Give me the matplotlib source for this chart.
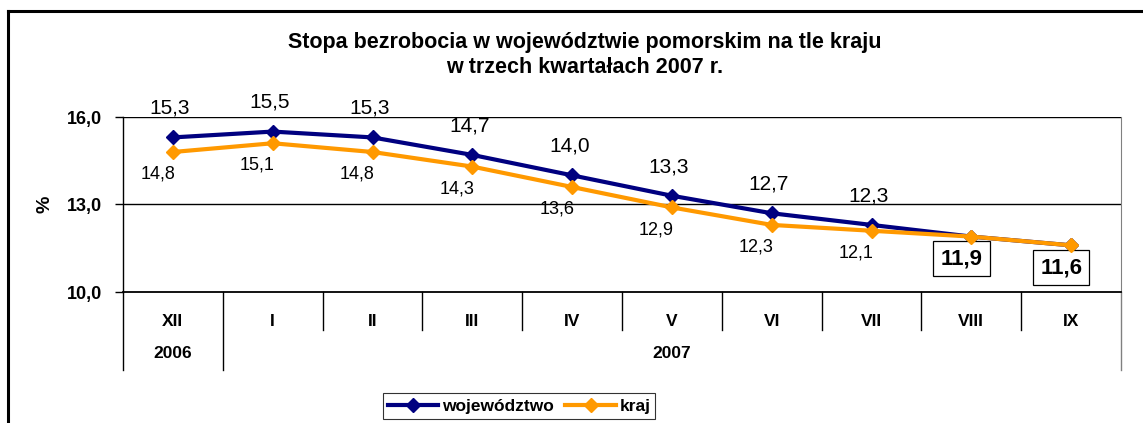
import matplotlib.pyplot as plt
from matplotlib.lines import Line2D

# dane z wykresu
months = ["XII", "I", "II", "III", "IV", "V", "VI", "VII", "VIII", "IX"]
years = ["2006", "2007"]
woj = [15.3, 15.5, 15.3, 14.7, 14.0, 13.3, 12.7, 12.3, 11.9, 11.6]
kraj = [14.8, 15.1, 14.8, 14.3, 13.6, 12.9, 12.3, 12.1, 11.9, 11.6]
yticks = [10.0, 13.0, 16.0]

plt.rcParams['font.family'] = ['Liberation Sans', 'DejaVu Sans']

W, H = 1143, 423
fig = plt.figure(figsize=(W / 100, H / 100), dpi=100)

# ramka calego wykresu
fig.add_artist(Line2D([8 / W, 8 / W], [0, 1 - 11 / H], color="black", lw=2.2))
fig.add_artist(Line2D([8 / W, 1], [1 - 11 / H, 1 - 11 / H], color="black", lw=2.2))

ax = fig.add_axes([123 / W, (H - 292) / H, 998 / W, 175 / H])
x = list(range(len(months)))

ax.plot(x, woj, color="#000080", lw=3, marker="D", ms=7, label="województwo", zorder=3)
ax.plot(x, kraj, color="#FF9900", lw=3, marker="D", ms=7, label="kraj", zorder=4)

ax.set_xlim(-0.5, len(months) - 0.5)
ax.set_ylim(10, 16)
ax.set_yticks(yticks)
ax.set_yticklabels([f"{v:.1f}".replace(".", ",") for v in yticks], fontsize=13, fontweight="bold")
ax.tick_params(axis="y", direction="out", length=6, width=1, pad=9)
ax.set_xticks([])
ax.axhline(13, color="black", lw=1)
ax.axhline(16, color="black", lw=1)
ax.spines["top"].set_visible(False)
ax.spines["left"].set_linewidth(1)
ax.spines["bottom"].set_linewidth(1.3)
ax.spines["right"].set_color("#808080")
ax.set_ylabel("%", fontsize=14, fontweight="bold", labelpad=10)

# etykiety danych
for i in range(len(months)):
    if woj[i] == kraj[i]:
        ax.annotate(f"{kraj[i]:.1f}".replace(".", ","), (i, kraj[i]), xytext=(-7, -16),
                    textcoords="offset points", ha="center", va="center",
                    fontsize=16, fontweight="bold",
                    bbox=dict(boxstyle="square,pad=0.32", fc="white", ec="black", lw=0.9))
        continue
    ax.annotate(f"{woj[i]:.1f}".replace(".", ","), (i, woj[i]), xytext=(-2, 21),
                textcoords="offset points", ha="center", va="center", fontsize=15)
    ax.annotate(f"{kraj[i]:.1f}".replace(".", ","), (i, kraj[i]), xytext=(-11, -16),
                textcoords="offset points", ha="center", va="center", fontsize=13)

# tabela kategorii pod osia
tr = ax.get_xaxis_transform()
row1 = -38 / 175
row2 = -78 / 175
for i in range(len(months) + 1):
    bottom = row2 if i in (0, 1, len(months)) else row1
    col = "#808080" if i == len(months) else "black"
    ax.add_line(Line2D([i - 0.5, i - 0.5], [0, bottom], transform=tr, color=col,
                       lw=1, clip_on=False))
for i, m in enumerate(months):
    ax.text(i, -29 / 175, m, transform=tr, ha="center", va="center",
            fontsize=12.5, fontweight="bold")
ax.text(0, -61 / 175, years[0], transform=tr, ha="center", va="center",
        fontsize=12.5, fontweight="bold")
ax.text(5, -61 / 175, years[1], transform=tr, ha="center", va="center",
        fontsize=12.5, fontweight="bold")

fig.text(585 / W, 1 - 55 / H, "Stopa bezrobocia w województwie pomorskim na tle kraju\nw trzech kwartałach 2007 r.",
         ha="center", va="center", fontsize=15.5, fontweight="bold", linespacing=1.2)

leg = fig.legend(loc="center", bbox_to_anchor=(519 / W, 1 - 406 / H), ncol=2,
                 frameon=True, fancybox=False, edgecolor="black", handlelength=2.9,
                 handletextpad=0.2, columnspacing=0.7, borderpad=0.3,
                 prop=dict(weight="bold", size=12.5))
leg.get_frame().set_linewidth(0.8)

fig.savefig("out.png", dpi=100)
